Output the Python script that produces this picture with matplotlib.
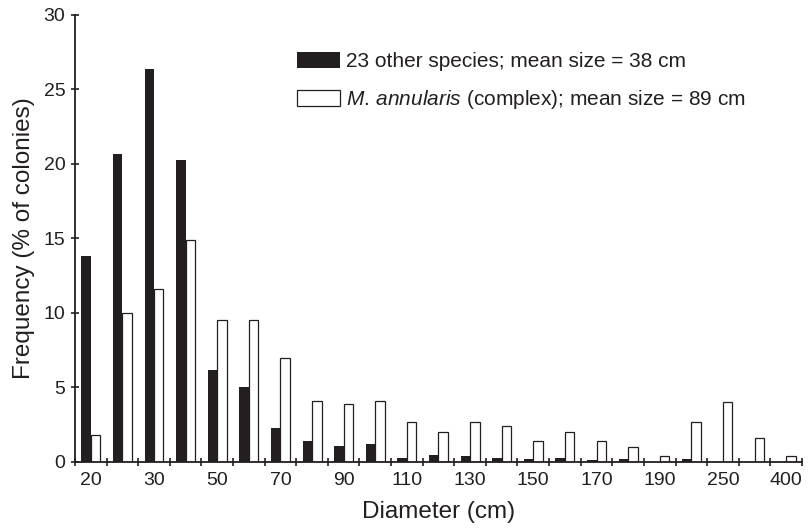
import numpy as np
import matplotlib
matplotlib.use('Agg')
from matplotlib import pyplot as plt

plt.rcParams['font.family'] = ['Liberation Sans', 'DejaVu Sans']
plt.rcParams['mathtext.fontset'] = 'custom'
plt.rcParams['mathtext.rm'] = 'Liberation Sans'
plt.rcParams['mathtext.it'] = 'Liberation Sans:italic'

# diameter classes (cm), only every other one is labelled on the axis
tick_labels = ['20', '', '30', '', '50', '', '70', '', '90', '', '110', '', '130', '',
               '150', '', '170', '', '190', '', '250', '', '400']
other_species = [13.8, 20.7, 26.4, 20.3, 6.2, 5.0, 2.3, 1.4, 1.1, 1.2, 0.3, 0.45,
                 0.37, 0.3, 0.2, 0.3, 0.1, 0.2, 0.0, 0.2, 0.0, 0.0, 0.0]
annularis = [1.8, 10.0, 11.6, 14.9, 9.5, 9.5, 7.0, 4.1, 3.9, 4.1, 2.7, 2.0,
             2.7, 2.4, 1.4, 2.0, 1.4, 1.0, 0.4, 2.7, 4.0, 1.6, 0.4]

ink = '#231f20'
fig = plt.figure(figsize=(8.09, 5.29), dpi=100)
ax = fig.add_axes([0.0927, 0.1267, 0.8986, 0.845])

x = np.arange(len(tick_labels))
w = 0.3
ax.bar(x, other_species, width=-w, align='edge', color=ink, linewidth=0,
       label='23 other species; mean size = 38 cm')
ax.bar(x, annularis, width=w, align='edge', color='white', edgecolor=ink, linewidth=0.9,
       label='$\\mathit{M.\\,annularis}$ (complex); mean size = 89 cm')

ax.set_xlim(-0.5, len(x) - 0.5)
ax.set_ylim(0, 30)
ax.set_yticks(np.arange(0, 31, 5))

# boundary ticks between classes, labels at class centres
ax.set_xticks(np.arange(-0.5, len(x) + 0.5, 1))
ax.set_xticklabels([])
ax.set_xticks(x, tick_labels, minor=True)
ax.tick_params(axis='x', which='minor', length=0, pad=7)
ax.tick_params(axis='both', which='major', direction='inout', length=6, width=1.2,
               color=ink, labelsize=14, labelcolor=ink)
ax.tick_params(axis='x', which='minor', labelsize=14, labelcolor=ink)
ax.tick_params(axis='y', pad=4)

for s in ['top', 'right']:
    ax.spines[s].set_visible(False)
for s in ['left', 'bottom']:
    ax.spines[s].set_linewidth(1.3)
    ax.spines[s].set_color(ink)

ax.set_xlabel('Diameter (cm)', fontsize=17.5, color=ink, labelpad=9)
ax.set_ylabel('Frequency (% of colonies)', fontsize=17.5, color=ink, labelpad=6)

ax.legend(loc='upper left', bbox_to_anchor=(297 / 809, 1 - 52 / 529),
          bbox_transform=fig.transFigure, frameon=False, fontsize=15,
          handlelength=2.05, handleheight=0.82, handletextpad=0.3,
          labelspacing=0.8, borderpad=0, borderaxespad=0, labelcolor=ink)

plt.savefig('out.png', dpi=100)
